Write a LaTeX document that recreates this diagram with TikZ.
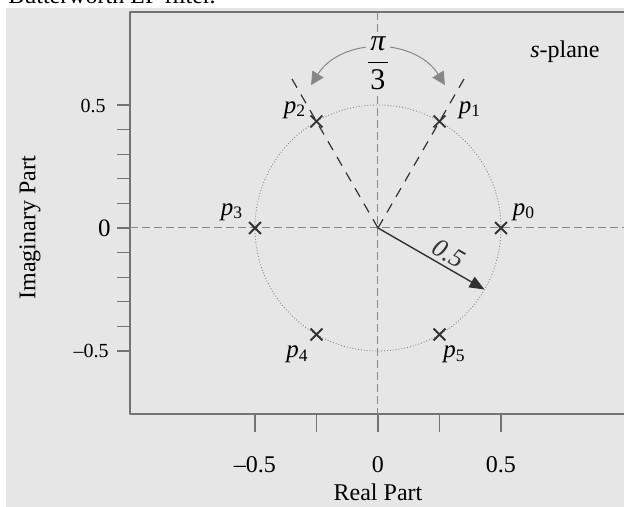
\documentclass[tikz,border=0pt]{standalone}
\usepackage{fontspec}
\setmainfont{Liberation Serif}
\usepackage{tikz}
\usetikzlibrary{calc,arrows.meta,shapes.misc}
\definecolor{panel}{RGB}{230,230,230}
\definecolor{framegray}{RGB}{115,115,115}
\definecolor{axisgray}{RGB}{135,135,135}
\definecolor{poledark}{RGB}{50,50,50}
\newcommand{\pole}[1]{\textit{p}\textsubscript{#1}}
\newcommand{\fsz}[1]{\fontsize{#1}{#1}\selectfont}

\begin{document}
\begin{tikzpicture}[x=123pt,y=123pt,font=\fsz{12}, line join=round,
	polemark/.style={draw=poledark, cross out, line width=0.9pt, minimum size=5pt, inner sep=0pt},
	raydash/.style={poledark, line width=0.6pt, dash pattern=on 5pt off 4pt},
	axisdash/.style={axisgray, line width=0.5pt, dash pattern=on 4pt off 2pt},
	anglearrow/.style={axisgray, line width=0.5pt, -{Triangle[length=6.5pt,width=6.5pt]}},
	radarrow/.style={poledark, line width=0.7pt, -{Triangle[length=7.5pt,width=6pt]}}]
	\useasboundingbox (-1.5366,-1.1341) rectangle (1.0,0.9268);
	\clip (-1.5366,-1.1341) rectangle (1.0,0.9268);
	\fill[panel] (-1.512,-1.1341) rectangle (1.0,0.894);
	\node[anchor=base west, inner sep=0pt] (cap) at (-1.5041,0.9106) {Butterworth LP filter.};
	\coordinate (O) at (0,0);
	\coordinate (FL) at (-1.008,0.878);
	\coordinate (BL) at (-1.008,-0.756);
	\draw[framegray, line width=0.65pt] (1.05,0.878) -- (FL) -- (BL) -- (1.05,-0.756);
	\foreach \x in {-0.5,-0.25,0,0.25,0.5}
		\draw[framegray, line width=0.65pt] (\x,-0.756) -- (\x,-0.829);
	\foreach \k in {-5,...,5}
		\draw[framegray, line width=0.65pt] (-1.008,\k/10) -- (-1.061,\k/10);
	\node[anchor=east, inner sep=0pt, font=\fsz{10}] (ty1) at (-1.1057,0.496) {0.5};
	\node[anchor=east, inner sep=0pt, font=\fsz{12.5}] (ty0) at (-1.0854,0) {0};
	\node[anchor=east, inner sep=0pt, font=\fsz{10}] (ty2) at (-1.0935,-0.5) {–0.5};
	\node (tx1) at (-0.5,-0.963) {–0.5};
	\node (tx0) at (0,-0.963) {0};
	\node (tx2) at (0.5,-0.963) {0.5};
	\node (xl) at (0,-1.073) {Real Part};
	\node[rotate=90] (yl) at (-1.4146,0) {Imaginary Part};
	\draw[axisdash] (-1.008,0) -- (1.0,0);
	\draw[axisdash] (0,0.878) -- (0,-0.756);
	\draw[axisgray, line width=0.45pt, densely dotted] (O) circle (0.5);
	\foreach \k in {0,...,5}
		\coordinate (P\k) at (\k*60:0.5);
	\coordinate (E1) at (60:0.72);
	\coordinate (E2) at (120:0.72);
	\draw[raydash] (O) -- (E1);
	\draw[raydash] (O) -- (E2);
	\foreach \k in {0,...,5}
		\node[polemark] (X\k) at (P\k) {};
	\node[font=\fsz{12.5}] (L0) at ([shift={(11.5pt,8pt)}]P0) {\pole{0}};
	\node[font=\fsz{12.5}] (L1) at ([shift={(15.25pt,5.75pt)}]P1) {\pole{1}};
	\node[font=\fsz{12.5}] (L2) at ([shift={(-10.75pt,5.75pt)}]P2) {\pole{2}};
	\node[font=\fsz{12.5}] (L3) at ([shift={(-11.5pt,8pt)}]P3) {\pole{3}};
	\node[font=\fsz{12.5}] (L4) at ([shift={(-9.5pt,-10pt)}]P4) {\pole{4}};
	\node[font=\fsz{12.5}] (L5) at ([shift={(7.5pt,-10pt)}]P5) {\pole{5}};
	\coordinate (R) at (-30:0.5);
	\draw[radarrow] (O) -- node[pos=0.6, above=-1.5pt, sloped, font=\fsz{13}] (rl) {\textit{0.5}} (R);
	\node[anchor=base, fill=panel, inner sep=1pt, font=\fsz{15}] (frac) at (0,0.644)
		{$\displaystyle\frac{\makebox[10pt]{\itshape π}}{\mbox{3}}$};
	\coordinate (AL) at (-0.05,0.735);
	\coordinate (TL) at (-0.272,0.581);
	\coordinate (AR) at (0.05,0.735);
	\coordinate (TR) at (0.272,0.581);
	\draw[anglearrow] (AL) to[out=188,in=58] (TL);
	\draw[anglearrow] (AR) to[out=-8,in=122] (TR);
	\node (sp) at (0.76,0.715) {\textit{s}-plane};
\end{tikzpicture}
\end{document}
